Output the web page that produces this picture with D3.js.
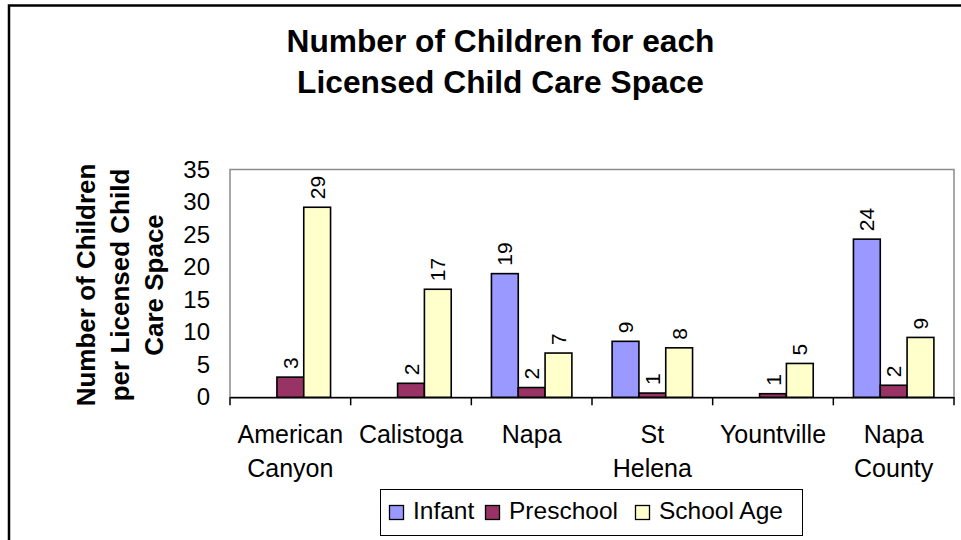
<!DOCTYPE html>
<html>
<head>
<meta charset="utf-8">
<script src="https://cdn.jsdelivr.net/npm/d3@7"></script>
<style>
  html, body { margin: 0; padding: 0; background: #fff; }
  svg { display: block; }
  text { font-family: "Liberation Sans", Arial, sans-serif; fill: #000; }
</style>
</head>
<body>
<svg id="chart" width="961" height="540"></svg>
<script>
// ---- data ----
const categories = [["American", "Canyon"], ["Calistoga"], ["Napa"], ["St", "Helena"], ["Yountville"], ["Napa", "County"]];
const seriesNames = ["Infant", "Preschool", "School Age"];
const infant    = [null, null, 19.0, 8.6, null, 24.3];
const preschool = [3.1, 2.15, 1.5, 0.65, 0.55, 1.85];
const schoolAge = [29.2, 16.6, 6.8, 7.6, 5.2, 9.2];
const seriesColors = ["#9999FF", "#993366", "#FFFFCC"];
const yTicks = [0, 5, 10, 15, 20, 25, 30, 35];
const titleLines = ["Number of Children for each", "Licensed Child Care Space"];
const yTitleLines = ["Number of Children", "per Licensed Child", "Care Space"];

(function () {
const series = [infant, preschool, schoolAge];
const svg = d3.select("#chart");

// chart-area frame
svg.append("rect").attr("x", 9).attr("y", 5.5).attr("width", 1000).attr("height", 600)
  .attr("fill", "none").attr("stroke", "#000").attr("stroke-width", 2.5);

// title
svg.append("text").attr("x", 500.5).attr("y", 51.5).attr("text-anchor", "middle")
  .style("font-size", "31.7px").style("font-weight", "bold")
  .selectAll("tspan").data(titleLines).join("tspan")
  .attr("x", 500.5).attr("dy", (d, i) => i === 0 ? 0 : 41).text(d => d);

const pLeft = 230, pRight = 954, pTop = 169.5, pBottom = 397.3;
const catIdx = categories.map((d, i) => i);
const x = d3.scaleBand().domain(catIdx).range([pLeft, pRight]).padding(0);
const y = d3.scaleLinear().domain([0, 35]).range([pBottom, pTop]);
const bw = x.bandwidth() / 4.5;
const xs = d3.scaleBand().domain([0, 1, 2]).range([0.75 * bw, 3.75 * bw]).padding(0);

// plot area border
svg.append("rect").attr("x", pLeft).attr("y", pTop).attr("width", pRight - pLeft).attr("height", pBottom - pTop)
  .attr("fill", "none").attr("stroke", "#8c8c8c").attr("stroke-width", 1.5);

// y axis tick labels
const yAxis = d3.axisLeft(y).tickValues(yTicks).tickSize(0).tickPadding(20);
const gy = svg.append("g").attr("transform", `translate(${pLeft},0)`).call(yAxis);
gy.select(".domain").remove();
gy.selectAll("text").style("font-size", "24px").style("font-family", "'Liberation Sans', Arial, sans-serif")
  .attr("fill", "#000");

// bars
const flat = [];
series.forEach((s, si) => s.forEach((v, ci) => { if (v != null) flat.push({ si, ci, v }); }));
svg.append("g").selectAll("rect").data(flat).join("rect")
  .attr("x", d => x(d.ci) + xs(d.si))
  .attr("y", d => y(d.v))
  .attr("width", xs.bandwidth())
  .attr("height", d => y(0) - y(d.v))
  .attr("fill", d => seriesColors[d.si])
  .attr("stroke", "#000").attr("stroke-width", 1.6);

// data labels (rotated)
svg.append("g").selectAll("text").data(flat).join("text")
  .attr("transform", d => `translate(${x(d.ci) + xs(d.si) + xs.bandwidth() / 2},${y(d.v) - 8}) rotate(-90)`)
  .attr("dy", "0.36em")
  .attr("text-anchor", "start")
  .style("font-size", "21px")
  .text(d => Math.round(d.v));

// x axis
const xAxis = d3.axisBottom(x).tickSize(0).tickFormat("");
const gx = svg.append("g").attr("transform", `translate(0,${pBottom})`).call(xAxis);
gx.select(".domain").attr("stroke", "#000").attr("stroke-width", 1.5);
// category boundary ticks
const bounds = catIdx.map(i => x(i)).concat([pRight]);
svg.append("g").selectAll("line").data(bounds).join("line")
  .attr("x1", d => d).attr("x2", d => d).attr("y1", pBottom).attr("y2", pBottom + 8)
  .attr("stroke", "#000").attr("stroke-width", 1.5);

// category labels
svg.append("g").selectAll("text").data(catIdx).join("text")
  .attr("text-anchor", "middle").style("font-size", "25px")
  .each(function (i) {
    const cx = x(i) + x.bandwidth() / 2;
    d3.select(this).selectAll("tspan").data(categories[i]).join("tspan")
      .attr("x", cx).attr("y", (d, k) => 443 + k * 33.5).text(d => d);
  });

// y axis title
svg.append("text").attr("transform", "translate(95,285) rotate(-90)")
  .attr("text-anchor", "middle").style("font-size", "26px").style("font-weight", "bold")
  .selectAll("tspan").data(yTitleLines).join("tspan")
  .attr("x", 0).attr("y", (d, i) => i * 34).text(d => d);

// legend
const lg = svg.append("g");
lg.append("rect").attr("x", 380.5).attr("y", 489.5).attr("width", 422).attr("height", 46)
  .attr("fill", "#fff").attr("stroke", "#000").attr("stroke-width", 1);
const legendX = [389, 485, 635];
const item = lg.selectAll("g.item").data(seriesNames).join("g").attr("class", "item")
  .attr("transform", (d, i) => `translate(${legendX[i]},0)`);
item.append("rect").attr("x", 0.5).attr("y", 505.5).attr("width", 14).attr("height", 14)
  .attr("fill", (d, i) => seriesColors[i]).attr("stroke", "#000").attr("stroke-width", 1.3);
item.append("text").attr("x", 24).attr("y", 519).style("font-size", "24.5px").text(d => d);
})();
</script>
</body>
</html>
